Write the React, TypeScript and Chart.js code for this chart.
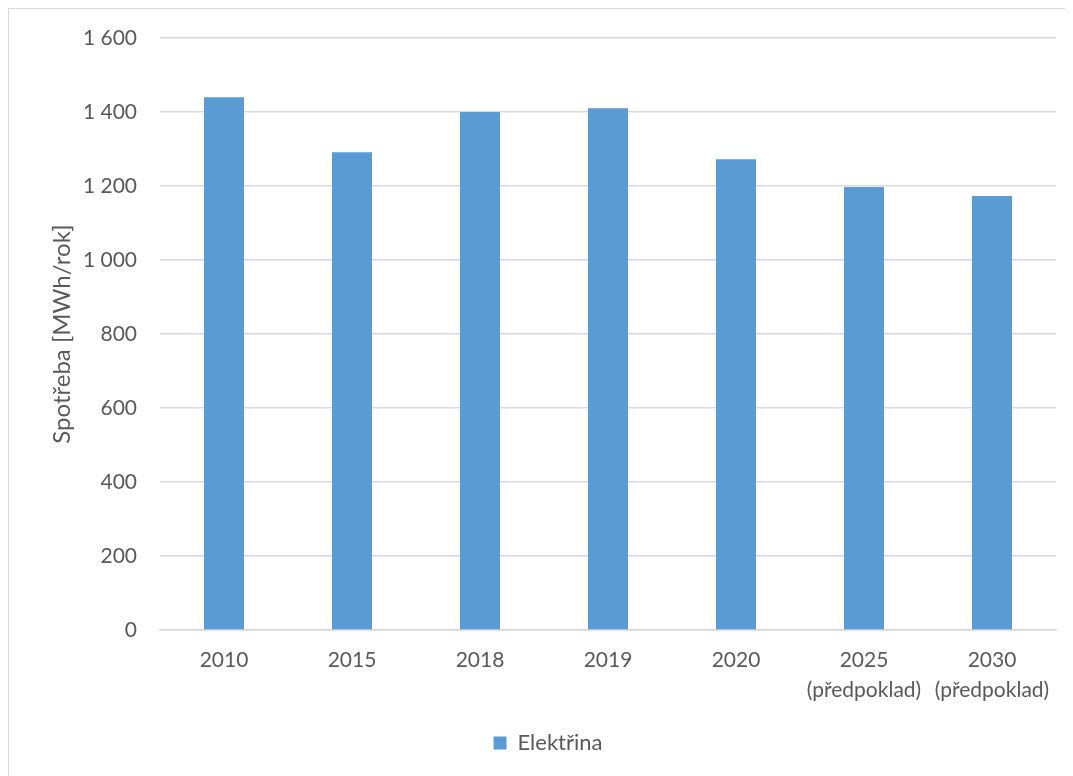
import React, { useEffect, useRef } from "react";
import { Chart, registerables } from "chart.js";

Chart.register(...registerables);

const categories: (string | string[])[] = [
  "2010",
  "2015",
  "2018",
  "2019",
  "2020",
  ["2025", "(předpoklad)"],
  ["2030", "(předpoklad)"],
];
const seriesName = "Elektřina";
const seriesValues = [1440, 1291, 1400, 1410, 1272, 1197, 1173];
const yTicks = { min: 0, max: 1600, step: 200 };
const yTitle = "Spotřeba [MWh/rok]";

const FONT = "Lato, 'Open Sans', sans-serif";
const TEXT = "#595959";
const GRID = "#d9d9d9";
const BAR = "#5B9BD5";

function fmt(v: number): string {
  return String(v).replace(/\B(?=(\d{3})+(?!\d))/g, " ");
}

export default function App() {
  const ref = useRef<HTMLCanvasElement | null>(null);

  useEffect(() => {
    document.documentElement.style.overflow = "hidden";
    const canvas = ref.current;
    if (!canvas) return;
    const chart = new Chart(canvas, {
      type: "bar",
      data: {
        labels: categories,
        datasets: [
          {
            label: seriesName,
            data: seriesValues,
            backgroundColor: BAR,
            borderWidth: 0,
            categoryPercentage: 1,
            barPercentage: 0.3125,
          },
        ],
      },
      options: {
        responsive: false,
        animation: false,
        devicePixelRatio: 1,
        layout: { padding: { top: 29, right: 17, left: 31, bottom: 12 } },
        plugins: {
          tooltip: { enabled: false },
          legend: {
            position: "bottom",
            labels: {
              boxWidth: 13,
              boxHeight: 13,
              padding: 10,
              color: TEXT,
              font: { family: FONT, size: 22 },
            },
          },
        },
        scales: {
          x: {
            grid: { display: false, drawTicks: false },
            border: { display: true, color: GRID, width: 1.5 },
            ticks: {
              color: TEXT,
              padding: 15,
              maxRotation: 0,
              autoSkip: false,
              font: { family: FONT, size: 21, lineHeight: 30 / 21 },
            },
            afterFit: (scale: any) => {
              scale.height = 92;
            },
          },
          y: {
            min: yTicks.min,
            max: yTicks.max,
            border: { display: false },
            grid: { color: GRID, lineWidth: 1.5, drawTicks: false },
            ticks: {
              stepSize: yTicks.step,
              color: TEXT,
              padding: 23,
              font: { family: FONT, size: 21 },
              callback: (v: any) => fmt(Number(v)),
            },
            title: {
              display: true,
              text: yTitle,
              color: TEXT,
              padding: { top: 8, bottom: 0 },
              font: { family: FONT, size: 24 },
            },
            afterFit: (scale: any) => {
              scale.width = 120;
              scale.paddingTop = 0;
              scale.paddingBottom = 0;
            },
          },
        },
      },
    });
    return () => chart.destroy();
  }, []);

  return (
    <div
      style={{
        width: 1065,
        height: 768,
        boxSizing: "border-box",
        borderLeft: `1px solid ${GRID}`,
        borderTop: `1px solid ${GRID}`,
        overflow: "hidden",
        background: "#fff",
      }}
    >
      <canvas ref={ref} width={1064} height={767} style={{ display: "block" }} />
    </div>
  );
}
